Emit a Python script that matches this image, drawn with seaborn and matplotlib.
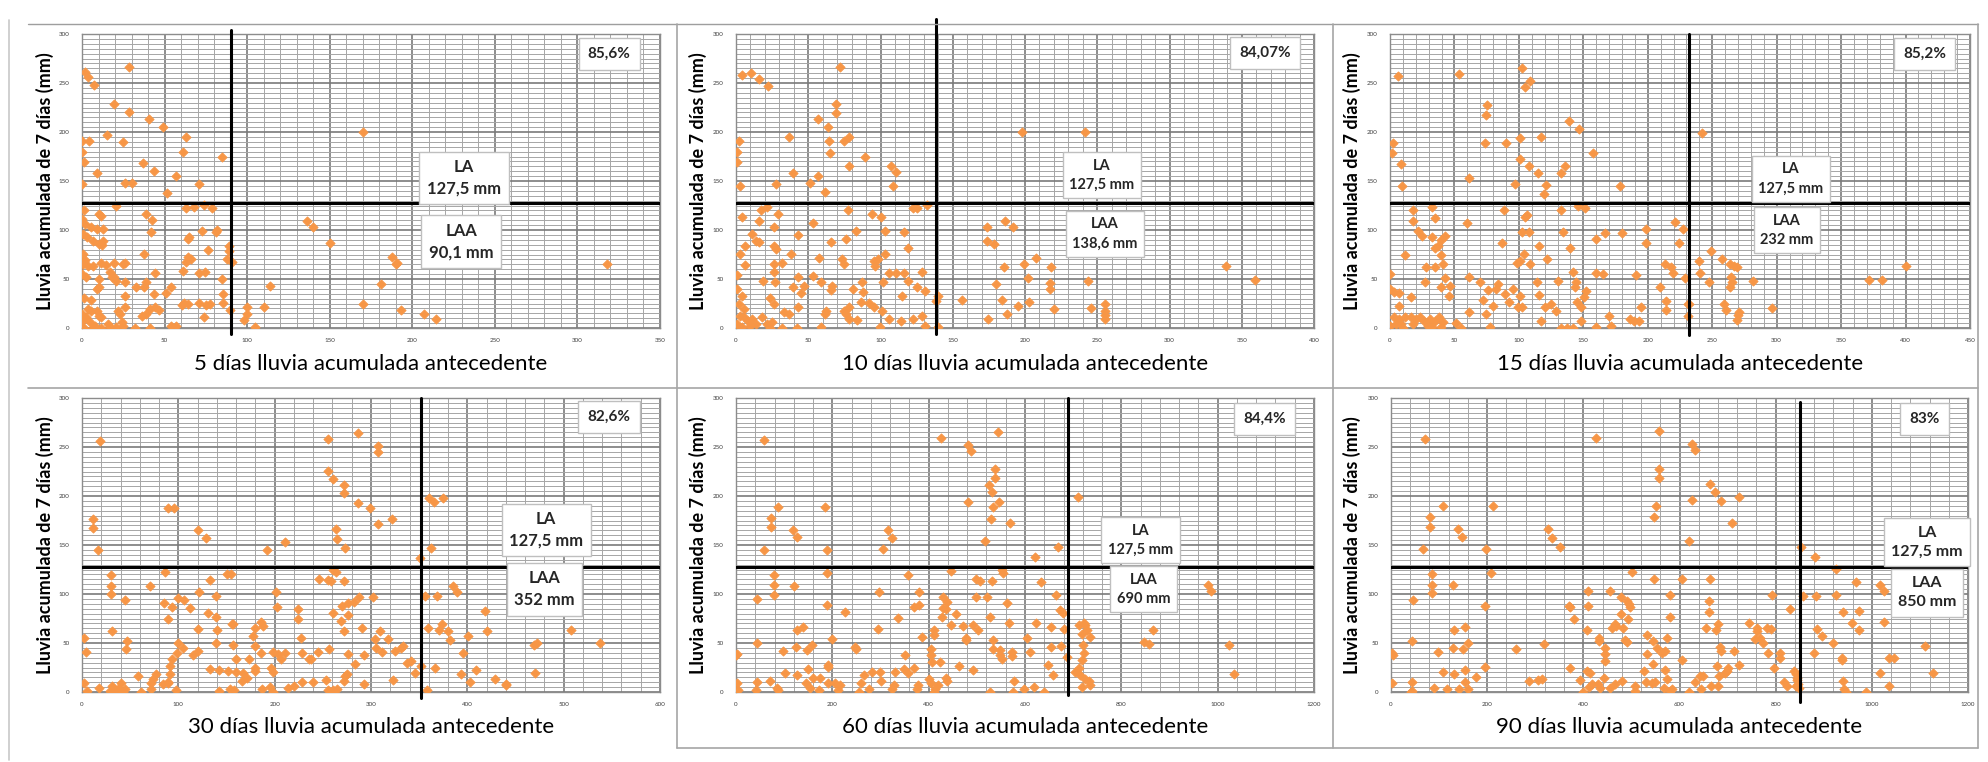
import numpy as np
import pandas as pd
import matplotlib
matplotlib.use("Agg")
import matplotlib.pyplot as plt
from matplotlib.lines import Line2D
from matplotlib.ticker import MultipleLocator
import seaborn as sns

sns.set_theme(style="white")
plt.rcParams["font.family"] = ["Lato", "DejaVu Sans"]

# Umbral de lluvia de 7 días (LA) y umbrales de lluvia antecedente (LAA)
LA = 127.5
windows = [5, 10, 15, 30, 60, 90]
laa = [90.1, 138.6, 232, 352, 690, 850]
pct_labels = ["85,6%", "84,07%", "85,2%", "82,6%", "84,4%", "83%"]
x_max = [350, 400, 450, 600, 1200, 1200]
x_major = [50, 50, 50, 100, 200, 200]

# (lluvia antecedente, lluvia acumulada de 7 días) por ventana
pts_5d = [
    (28.5, 266.7), (1.6, 261), (3.4, 256), (7.5, 248), (19.6, 229), (28.5, 220), (40.4, 213), (49, 205),
    (15.3, 197), (62.8, 195), (0, 191), (4, 191), (24.7, 190), (0, 180), (61, 180), (1, 169), (85, 174),
    (36.8, 168), (43.4, 160), (8.9, 158), (57, 155), (0, 147), (26, 148), (30, 148), (71, 146.6), (51.6, 138),
    (74, 126), (20.5, 124), (63, 122), (68, 123), (79, 122), (170, 200), (136, 109.5), (140, 103), (150, 87),
    (188, 72), (190, 65), (191, 66), (181, 45), (170, 24), (193, 18), (207, 14), (214.6, 9.5), (318, 65),
    (114, 43), (110, 21), (100, 21), (100, 14), (98, 8), (105, 1.4), (89, 84), (89, 79), (88, 70), (91, 67),
    (84.5, 50), (85.6, 35), (85.6, 26), (89.7, 18), (1, 120), (0, 111), (2, 106), (10, 116), (11.5, 114.6),
    (39, 116), (42.2, 110), (42, 98), (5.7, 103), (9, 101), (13, 101), (0.7, 96), (3, 92.5), (6.8, 89),
    (10.3, 86), (13, 89), (12, 85), (0.7, 75.5), (1.6, 69), (37.7, 75.5), (65, 92.5), (64, 91), (72.4, 99),
    (81, 97.6), (82, 100), (76, 80), (64, 72), (66.2, 70.4), (62.8, 67), (61, 58.5), (70.8, 55.8), (74.4, 56.8),
    (0.7, 65), (3.4, 63.6), (6.8, 63), (11.4, 66), (14.8, 64.6), (19.4, 66), (25, 65), (26.3, 66), (44, 55.8),
    (0, 55), (2.3, 51.7), (10, 50), (17, 57), (18.3, 52), (20.5, 48), (19.4, 51.7), (26, 46.6), (38.8, 46.6),
    (37.7, 41.5), (32.6, 41.5), (9, 39.8), (10, 41.5), (51, 36), (54, 41.5), (43.4, 35), (26.3, 33), (1.1, 31),
    (5.7, 28.6), (61.6, 26), (64, 24.5), (60.5, 23), (70.8, 26), (75, 23), (77.6, 24), (26.3, 21), (41, 19.4),
    (44.5, 21.8), (46.8, 18.4), (3.4, 19.4), (5.7, 17), (9, 17.7), (0, 14), (2.3, 11), (10, 12.6), (11.4, 11),
    (21.7, 17.7), (22.8, 14.3), (36.5, 12.6), (38.8, 14), (74, 11), (0, 7.5), (4.6, 5.8), (8, 2.4), (16, 4),
    (17, 1.4), (24, 5.8), (25, 2.4), (32, 0), (41, 0), (53.6, 2.4), (57, 2.4), (1.1, 0), (6.8, 0), (11.4, 0),
    (20.5, 0.7),
]

pts_10d = [
    (72.3, 266.7), (4.4, 258.5), (10.4, 260), (16, 254), (22.4, 247), (69, 229), (69, 219), (56.5, 213),
    (63.7, 205), (37, 195), (64.5, 190.5), (74.7, 190.5), (78.5, 195), (1.8, 190.5), (0.5, 180), (1, 169),
    (64.8, 178.6), (89.5, 174), (78.5, 165.6), (107, 165.6), (110.6, 159.5), (39.5, 158), (57, 155), (51.2, 148),
    (27.6, 147), (2.6, 145), (61.7, 138.4), (108.5, 145), (197.7, 200), (241.4, 200), (122.8, 122), (125.4, 122),
    (132, 126), (4.4, 113), (17.4, 120), (21.3, 123), (29, 116), (16, 109.5), (26.5, 103.4), (53, 107.5),
    (77.5, 120), (94, 116), (100, 113.6), (11, 96), (14, 89), (16, 87.4), (6.3, 84), (3.1, 75.5), (42.7, 94.5),
    (38.2, 75.5), (26.5, 84), (27.8, 80.6), (57.7, 71.4), (65.5, 87.4), (76, 90.8), (83.3, 99.3), (103.3, 98.6),
    (116.3, 97.6), (73.4, 70.4), (74.7, 65), (95.5, 68), (98, 70.4), (96.2, 63.6), (103.3, 76), (119, 82),
    (6.3, 64.6), (26.5, 65), (31.8, 66), (26.5, 56.8), (1, 54.4), (19, 48.3), (27, 46.6), (42.7, 51.7), (39.5, 42),
    (47, 43), (53, 53), (58.5, 46.6), (66.3, 42.5), (65.5, 38.8), (81, 39.8), (87, 46.6), (88, 36.4), (101.5, 46.6),
    (106, 55.8), (111, 55.8), (116.3, 55.8), (119, 48.3), (125, 41.5), (130.6, 38), (128.8, 56.8), (115, 33),
    (0.5, 39.8), (4.4, 33), (1.8, 24.5), (5.7, 19.4), (23.4, 30.6), (26.5, 24.5), (42.7, 21), (44.8, 35.4),
    (62.4, 17.7), (61.7, 14.3), (74.7, 17.7), (78.5, 21.8), (76, 14.3), (78, 9.2), (86.4, 26.2), (92, 25.2),
    (100.7, 17.7), (95.5, 21), (106, 9.2), (114.5, 7.5), (122.8, 9.2), (128.8, 12.6), (138.4, 27.9), (139.7, 33),
    (130.6, 2.4), (139.7, 0.7), (3, 12.6), (5.7, 11), (8.3, 7.5), (11, 9.2), (13.5, 4), (0.5, 4), (4.4, 0.7),
    (9.6, 2.4), (18.2, 11), (21.3, 4), (23.4, 0), (25.2, 5.8), (31.7, 0), (37, 14.3), (42.2, 0), (33, 16),
    (58.5, 1.4), (83.8, 8.2), (99.4, 1.4), (156.6, 28.6), (173.5, 102.7), (178.7, 85.7), (173.5, 88.4),
    (186.5, 109.5), (191.7, 102.7), (185.2, 62), (199.5, 65), (207.3, 71.4), (217.7, 62), (180, 45), (202, 51),
    (217, 46), (217, 40), (184, 28.6), (195, 22.8), (202.7, 26.2), (187.3, 14.3), (174.3, 9.2), (220.3, 19.4),
    (243.8, 48.3), (245.8, 20), (255.5, 24.5), (255.5, 17.7), (255.5, 13.6), (255.5, 9.2), (339.2, 63.6),
    (359.5, 49.3),
]

pts_15d = [
    (5.9, 257.5), (53.6, 259), (102.6, 265), (108.4, 252.4), (105, 245.6), (75.3, 227.6), (74.1, 217.7),
    (138.6, 211.6), (147, 203), (241.8, 198.6), (2.3, 188.8), (1.2, 179), (73.9, 189), (90, 189), (100.5, 193.5),
    (117.2, 195), (8.2, 167), (100.5, 172.4), (107.9, 165.6), (115, 158), (135.4, 165.6), (133, 158),
    (157.7, 179), (61, 153), (96.7, 146.6), (120.7, 146.3), (119.6, 136.7), (9.4, 144.5), (178.2, 144.5),
    (146, 124.6), (151, 122.4), (18.2, 120.4), (17.6, 109.5), (32.2, 123), (34.6, 112), (88.5, 120.4),
    (105, 113.6), (106, 115.6), (132.8, 120.4), (60, 107.5), (22, 99.3), (24.9, 94), (32.2, 92.5), (42.5, 93.9),
    (39.6, 89.8), (37.5, 84), (35.2, 81.6), (102.6, 97.6), (107.9, 97.6), (134.2, 97.6), (159.7, 90.8),
    (166.5, 96.6), (180.2, 96.6), (198.7, 101), (221.3, 107.8), (227.6, 101), (87, 86.7), (115.8, 84),
    (140, 81.6), (198.7, 86.7), (224.2, 86.7), (11.7, 74.8), (39.6, 74.8), (41, 65.3), (27.8, 62), (34.6, 62),
    (27.2, 46.6), (42.5, 51), (104, 75.5), (98.2, 66), (101.1, 68.7), (108.4, 65.3), (121.6, 70.4), (142, 56.8),
    (159.7, 55.8), (165.6, 55), (190.5, 54.4), (213.4, 65.3), (218.4, 62), (219.2, 55.8), (228.6, 51),
    (239.7, 68), (240.9, 55.8), (249, 79), (257.3, 70), (263.8, 65.3), (266.7, 63.6), (269.6, 62), (264.7, 51.7),
    (263.8, 41.5), (265.2, 46.6), (247.7, 46.6), (281.4, 47.6), (0, 55), (61.5, 51.7), (69.5, 46.6), (76.2, 38.8),
    (83.5, 45), (82, 40), (39.6, 41.5), (46.3, 43.2), (45.4, 33), (95.3, 40), (89.4, 35), (92.3, 26.2), (101, 33),
    (99.6, 21), (102.6, 21), (114.3, 46.6), (115.8, 34), (130.3, 47.6), (120.2, 21), (144.2, 46.6), (143.6, 41.5),
    (152.4, 38), (150.9, 31.3), (145, 26.2), (124.6, 24.5), (129, 17.7), (148, 21), (209.6, 41.5), (195, 21),
    (214, 27.2), (214, 18.4), (231.5, 24.5), (259.4, 24.5), (260.8, 18.4), (270.2, 13.6), (269.6, 8.2), (271, 16),
    (296, 20), (371.6, 49.3), (381.9, 49.3), (400, 63.6), (0, 39.8), (2.9, 36.4), (7.3, 35.4), (7.3, 22.8),
    (16, 31.3), (71.8, 28.6), (80, 22.8), (74.7, 14.3), (61, 16), (51.3, 5), (55, 0), (77.7, 1.4), (117.2, 6.8),
    (132.5, 0), (137.7, 0), (142.1, 0), (148, 7.5), (159.7, 1.4), (170, 12.6), (171.5, 2.4), (186, 9.2),
    (189, 6.8), (193.4, 7.5), (231, 12.6), (232, 24.5), (2.9, 10.9), (7.3, 9.2), (11.7, 10.9), (16.1, 10.9),
    (20.5, 9.2), (23.4, 10.9), (26.4, 7.5), (30.8, 9.2), (35.2, 7.5), (38.1, 10.9), (41, 5.8), (8.8, 4.1),
    (17.6, 4.1), (29.3, 2.4), (39.6, 0.7), (4.4, 4.1), (10.3, 0), (32.2, 0.7), (0, 2.4),
]

pts_30d = [
    (18.7, 256), (255, 257.8), (286.3, 264), (307.7, 251), (307, 245), (255, 226), (260.2, 217), (272, 211),
    (272, 202.6), (286.3, 193), (299, 188), (321.4, 176.5), (307.7, 171.4), (360.3, 198), (365.4, 194),
    (374.8, 198), (88.8, 188), (95.4, 188), (10.9, 176.5), (10.9, 167), (120.8, 165.3), (128.6, 157.5),
    (210.4, 152.8), (192, 145), (16.8, 145), (264, 166), (264.8, 156), (273.5, 146.7), (362.3, 146.7),
    (350.6, 136.5), (260.2, 124.7), (264, 122), (246, 115), (255, 114.5), (258.3, 112.8), (272, 113.5),
    (29.6, 119), (29.6, 108.4), (29.6, 100.3), (85.7, 122), (70.9, 108.4), (133.2, 114.5), (150.8, 120.6),
    (155, 120.6), (121.5, 101.6), (139.5, 98.2), (201.4, 101.6), (44.8, 93.5), (99.3, 95.9), (106, 94.2),
    (112.2, 85.7), (93.5, 86.7), (85, 90.8), (88.8, 74.5), (130.5, 80.6), (139.5, 76.2), (157, 69.4),
    (202.6, 86.7), (224.4, 84.7), (224.4, 74.5), (227, 55.2), (261, 80.6), (270, 87.4), (276.6, 90.8),
    (282.4, 91.5), (287.5, 96.5), (302, 96.5), (275.8, 79), (268.8, 72.2), (272, 62.7), (291, 65.4),
    (309.7, 62.7), (303.8, 54.2), (317.5, 54.2), (356.4, 98.2), (368.7, 98.2), (385, 108.4), (389.6, 101.6),
    (359.2, 65.4), (370.9, 63.7), (379.8, 62.7), (373.2, 69.4), (381.7, 53.5), (418, 82.3), (420.7, 62.7),
    (401.2, 56.9), (395.4, 40), (409, 22.4), (469.4, 48.4), (472.1, 50.1), (470.6, 19.6), (507.6, 63.7),
    (537.6, 50.1), (428.5, 12.9), (440, 7.8), (440, 6.8), (403, 10.2), (393.5, 18), (366.2, 24.7), (358.4, 2),
    (337, 29.8), (342, 31.5), (345.9, 19.6), (351.8, 26.4), (331.1, 45), (333, 46.7), (325.3, 41.7),
    (322.5, 11.9), (305, 45), (311.6, 40.6), (293, 37.3), (283.6, 28.1), (293, 7.8), (275.8, 38.3), (274.6, 18),
    (273.5, 16.3), (256.3, 43.4), (245.4, 41.3), (237.6, 33.2), (227.9, 40), (210.4, 40), (206.5, 33.2),
    (198.7, 40.6), (203.7, 38.3), (188.2, 67), (186.2, 71.1), (179.2, 65.4), (177.2, 57.6), (179.2, 47.4),
    (186.2, 40), (155.8, 69.4), (157, 48.4), (159.7, 33.2), (173.4, 33.2), (179.2, 24.7), (196.7, 24.7),
    (132.5, 23), (142.2, 22.4), (151.9, 21.3), (159.7, 20.3), (167.5, 19.6), (179.2, 21.3), (153.9, 3.4),
    (142.2, 1), (165.6, 11.2), (171.4, 14.6), (157.8, 2), (187, 2.7), (194.8, 5.4), (197.9, 0), (197.9, 20.3),
    (120, 64.4), (140.2, 63.7), (139.5, 50.1), (120.8, 41.7), (114.9, 37.3), (105.2, 45), (99.3, 50.1),
    (98.2, 40), (93.5, 33.2), (91.5, 26.4), (91.5, 18), (88.8, 8.8), (77.1, 18.6), (74, 12.9), (72.1, 8.8),
    (58.4, 16.3), (61.5, 0), (72.1, 2.7), (83.8, 7.8), (89.6, 10.2), (97.4, 2), (46.7, 51.8), (31.2, 62.7),
    (46, 43.4), (1.9, 55.2), (3.9, 40.6), (1.9, 9.5), (4.7, 1), (17.5, 4.4), (29.2, 1), (33.1, 2.7), (37, 3.4),
    (39, 1), (40.9, 8.8), (42.9, 0), (35, 0), (44.8, 2.7), (31.2, 6.1), (235.7, 33.2), (214.3, 4.4),
    (220.1, 6.1), (227.9, 10.2), (239.6, 10.2), (253.2, 11.9), (255.2, 2), (261, 2), (264.9, 2.7), (261, 0),
    (271.5, 11.2),
]

pts_60d = [
    (58.8, 257), (425, 259), (543.5, 265.4), (482.4, 252.2), (488.6, 246), (537, 227.4), (537, 218.3),
    (525.5, 211), (531, 203.7), (482.4, 193.5), (533, 189), (546.7, 193.5), (529.4, 177), (568.6, 172),
    (709.8, 199.3), (87.8, 189), (184.3, 189), (72.2, 178), (72.2, 168), (119.2, 165.3), (127, 158.5),
    (315.3, 165.3), (323.1, 156.8), (58.8, 145), (189.8, 145), (305.9, 146), (517.6, 153.8), (621.2, 137.8),
    (668.2, 147.7), (553, 125), (555.3, 121.5), (447, 123), (356.9, 119.8), (78.4, 119.8), (78.4, 109.3),
    (78.4, 99.1), (120, 108), (43.1, 94.4), (189.8, 121.5), (189.8, 88.3), (296.5, 102.5), (380.4, 102.5),
    (498, 115.4), (506, 113.7), (531.8, 113.7), (498, 97.4), (521.6, 97.4), (429.8, 96.7), (437.6, 91.6),
    (429.8, 85.5), (435.3, 84.9), (368.6, 87.2), (380.4, 88.3), (563, 91), (633.7, 112.7), (663.5, 99.1),
    (673, 83.2), (678.4, 80.8), (457.3, 79.8), (427.5, 76.4), (447, 68.6), (470.6, 66.9), (492.5, 68.6),
    (502, 62.8), (527, 76.4), (566.3, 70.3), (623.5, 70.6), (655, 66.2), (682, 64.5), (721.6, 70.6),
    (727.8, 62.8), (735.7, 56), (335.7, 75.4), (225.9, 81.5), (295.7, 64.5), (200, 53.6), (127, 62.8),
    (138.8, 66.2), (125.5, 45.8), (158.4, 47.5), (146.7, 42.4), (43.1, 50.2), (1.6, 39), (98, 41.4),
    (190.6, 25.5), (190.6, 27.2), (247.8, 45.8), (249.4, 44.1), (350.6, 38), (386.7, 56), (411.8, 62.8),
    (411.8, 57.7), (403.9, 44.1), (403.9, 37.3), (407.8, 30.5), (423.5, 30.5), (476.9, 55), (476.9, 52.6),
    (533.3, 52.6), (533.3, 44.1), (549, 42.4), (547.5, 37.3), (553, 33.9), (572.5, 40.7), (572.5, 36.7),
    (609.4, 40.7), (604, 55), (654.9, 45.8), (674.5, 46.8), (686.3, 35.6), (462.7, 26.5), (492.5, 22.1),
    (576.5, 10.9), (647, 27.8), (657.3, 17), (619.6, 4.8), (597.6, 2.7), (575, 0), (639.2, 0), (527, 0),
    (712.2, 67.9), (725.5, 67.9), (717.6, 59.4), (720, 48.2), (723.1, 39.7), (717.6, 32.2), (704.3, 20.4),
    (713.7, 17), (725.5, 13.6), (733.3, 10.9), (735.7, 7.5), (717.6, 5.1), (712.2, 24.4), (866.7, 63.5),
    (847, 50.9), (856.5, 49.2), (980.4, 109.6), (986.7, 102.9), (1023.5, 47.5), (1033.7, 18.7), (0, 38),
    (1.6, 9.5), (3.9, 1.7), (43.1, 10.2), (40.8, 1.7), (70.6, 10.9), (84.7, 4.1), (86.3, 1.7), (102, 19.7),
    (127, 17.7), (149, 23.1), (145, 9.5), (153, 4.1), (172.5, 1.7), (160.8, 14.3), (174, 14.3), (192, 9.5),
    (206, 9.5), (215.7, 6.8), (211.8, 1.7), (255, 0), (258.8, 9.5), (266.7, 17), (276, 3.4), (282.4, 20.4),
    (298, 20.4), (302, 10.9), (323, 2.7), (329.4, 20.4), (327.8, 6.8), (349, 23.8), (356.9, 19.7),
    (368.6, 24.4), (376.5, 2.7), (378, 6.8), (400, 13.6), (404, 9.5), (414, 3.4), (411.8, 0), (419.6, 7.5),
    (435.3, 14.3), (437.6, 10.9),
]

pts_90d = [
    (70.7, 257.8), (426.5, 259.5), (558.4, 266.4), (625, 253.4), (632, 246.6), (558.4, 227.8), (558.4, 218.3),
    (663.6, 212.5), (673.8, 204), (626, 196), (687.2, 194.4), (724, 198.8), (552, 189.3), (546, 178.4),
    (708.4, 172.6), (108.4, 189.3), (212, 189.3), (80.1, 178.4), (80.1, 168), (139.8, 166.4), (147.6, 158.6),
    (326.7, 166.4), (333.8, 157.2), (351.8, 147.7), (66.8, 146), (198, 146), (618.9, 154.5), (853.7, 147.7),
    (882, 138), (925, 125.5), (968, 111.9), (1017, 109.5), (1025, 103.3), (84.8, 120.4), (84.8, 109.1),
    (84.8, 100.6), (128, 109.1), (45.5, 94.1), (208, 121.4), (194.8, 88), (501, 122), (548, 115.3),
    (606, 115.3), (663.6, 115.3), (410.7, 102.7), (455.5, 102.7), (410.7, 88), (370.7, 88), (479, 96.5),
    (491, 93.1), (494.8, 89.7), (496.4, 86.3), (581, 99.2), (661, 93.1), (661, 81.2), (791.6, 99.2),
    (830.8, 84.6), (857.6, 98.2), (883.5, 97.5), (925, 99.2), (477.3, 79.5), (493, 74.4), (459.4, 65.8),
    (467.3, 67.5), (483, 65.8), (380.8, 74.4), (371.3, 87), (581, 76.7), (655.8, 65.8), (679.3, 69.2),
    (675.4, 63.1), (744.5, 70.3), (761.7, 65.8), (761.7, 62.4), (781.4, 65.8), (789.3, 64.1), (885.9, 64.1),
    (896.9, 57), (940.8, 81.2), (972.3, 82.9), (959.7, 70), (972.3, 63.1), (1024.9, 71.6), (918.9, 50.5),
    (879.6, 40.2), (938.5, 34.4), (938.5, 32.7), (1111, 47), (1035, 34.4), (1046, 34.4), (1127, 19.8),
    (1018, 19.8), (1035, 6.1), (988, 0), (941, 11.3), (942, 2.7), (946, 0), (757.9, 53.9), (768.1, 55.6),
    (773.6, 49.5), (783.8, 40.2), (808.9, 40.2), (808.9, 34.4), (797.1, 24.9), (816.8, 10.6), (823, 6.1),
    (838.8, 21.5), (841.9, 18.1), (844.3, 14.7), (844.3, 11.9), (846.6, 7.8), (841.9, 6.1), (848.2, 4.4),
    (684.8, 46), (687.2, 42), (713.1, 42), (724.1, 27.6), (700.5, 24.2), (699, 21.5), (695, 19.8),
    (681.7, 16.4), (677, 26.6), (666, 6.1), (679.3, 6.1), (532.5, 58.3), (545.8, 52.2), (553.7, 45.4),
    (563.9, 40.2), (569.4, 42), (575, 55.6), (604.7, 32.4), (532.5, 39.2), (545.8, 29), (569.4, 22.2),
    (526.2, 21.5), (530.1, 10.6), (541.9, 9.5), (548.2, 10.6), (575, 13), (567, 4.4), (579.6, 1), (585.1, 2.7),
    (618.9, 0), (632.2, 10.6), (642.4, 16.4), (648, 16.4), (645.6, 3.4), (432, 52.2), (446.1, 45.4),
    (446.1, 38.5), (446.1, 31.7), (486.9, 52.9), (490.8, 51.5), (465, 69.2), (408.4, 63.1), (433.5, 54.9),
    (392.7, 11.9), (408.4, 21.5), (414.7, 19.8), (412.3, 5.1), (417.8, 7.8), (430.4, 7.8), (434.3, 4.4),
    (443.7, 14.7), (455.5, 4.4), (465, 7.8), (480.6, 11.3), (506.6, 6.1), (506.6, 1), (399, 0), (371.5, 24.9),
    (318.1, 48.8), (304.7, 11.9), (286.7, 11.3), (314.1, 13), (259.2, 43.7), (194.8, 25.6), (176.7, 15.3),
    (161, 2.7), (153.1, 10.6), (154.7, 22.9), (141.4, 2.7), (116.2, 2.7), (108.4, 20.5), (132, 18.8),
    (90.3, 3.8), (98.2, 41.3), (129.6, 45.4), (149.2, 44.3), (161, 49.5), (153.1, 66.5), (132, 63.1),
    (43.2, 52.2), (43.2, 10.6), (43.2, 1), (40.8, 0), (1.6, 40.2), (3.9, 37.5), (1.6, 9.5),
]

series = [pts_5d, pts_10d, pts_15d, pts_30d, pts_60d, pts_90d]

W, H = 1988, 762
fig = plt.figure(figsize=(W / 100, H / 100), dpi=100)
fig.patch.set_facecolor("white")

# Plot-area rectangles in figure pixels: (left, top, right, bottom)
boxes = [
    (82, 34, 660, 328), (736, 34, 1314, 328), (1390, 34, 1970, 328),
    (82, 398, 660, 692), (736, 398, 1314, 692), (1391, 398, 1968, 692),
]
ylabel_x = [45, 698, 1352, 45, 698, 1352]
xlabel_y = [364, 364, 364, 727, 727, 727]
# positions (axes fraction) of the text boxes
pct_pos = [(0.912, 0.932), (0.915, 0.935), (0.922, 0.932), (0.912, 0.935), (0.915, 0.929), (0.924, 0.929)]
la_pos = [(0.661, 0.51), (0.633, 0.52), (0.691, 0.507), (0.803, 0.551), (0.70, 0.517), (0.929, 0.51)]
laa_pos = [(0.656, 0.293), (0.638, 0.32), (0.684, 0.333), (0.80, 0.35), (0.705, 0.35), (0.929, 0.337)]
box_fs = [12, 10.5, 10.5, 12, 10.5, 11.5]
vline_ext = [(-0.02, 1.015), (-0.02, 1.05), (-0.025, 1.0), (-0.02, 1.0), (-0.01, 1.0), (-0.035, 0.985)]

orange = "#F79646"
box_style = dict(boxstyle="square,pad=0.45", fc="white", ec="#BFBFBF", lw=1.0)

for i, pts in enumerate(series):
    l, t, r, b = boxes[i]
    ax = fig.add_axes([l / W, 1 - b / H, (r - l) / W, (b - t) / H])
    df = pd.DataFrame(pts, columns=["antecedente", "lluvia7"])

    ax.set_xlim(0, x_max[i])
    ax.set_ylim(0, 300)
    ax.xaxis.set_major_locator(MultipleLocator(x_major[i]))
    ax.xaxis.set_minor_locator(MultipleLocator(x_major[i] / 5))
    ax.yaxis.set_major_locator(MultipleLocator(50))
    ax.yaxis.set_minor_locator(MultipleLocator(5))
    ax.grid(which="major", color="#7A7A7A", lw=1.2)
    ax.grid(which="minor", color="#A6A6A6", lw=0.7)
    ax.set_axisbelow(True)
    for sp in ax.spines.values():
        sp.set_color("#8C8C8C")
        sp.set_linewidth(1.0)
    ax.tick_params(which="both", length=0, labelsize=4.5, labelcolor="#404040")
    ax.tick_params(axis="y", pad=9)
    ax.tick_params(axis="x", pad=7)

    sns.scatterplot(data=df, x="antecedente", y="lluvia7", marker="D", s=22,
                    color=orange, edgecolor=orange, linewidth=0.6, ax=ax, zorder=3,
                    legend=False)
    ax.set_xlabel("")
    ax.set_ylabel("")

    ax.axhline(LA, color="black", lw=2.2, zorder=4)
    y0, y1 = vline_ext[i]
    ax.axvline(laa[i], ymin=y0, ymax=y1, color="black", lw=2.2, zorder=4, clip_on=False)

    ax.text(*pct_pos[i], pct_labels[i], transform=ax.transAxes, ha="center", va="center",
            fontsize=11, fontweight="bold", color="#262626",
            bbox=dict(boxstyle="square,pad=0.6", fc="white", ec="#BFBFBF", lw=1.0), zorder=6)
    ax.text(*la_pos[i], "LA\n127,5 mm", transform=ax.transAxes, ha="center", va="center",
            fontsize=box_fs[i], fontweight="bold", color="#262626", linespacing=1.45,
            bbox=box_style, zorder=6)
    laa_txt = f"{laa[i]:g} mm".replace(".", ",")
    ax.text(*laa_pos[i], "LAA\n" + laa_txt, transform=ax.transAxes, ha="center", va="center",
            fontsize=box_fs[i], fontweight="bold", color="#262626", linespacing=1.45,
            bbox=box_style, zorder=6)

    fig.text(ylabel_x[i] / W, 1 - ((t + b) / 2) / H, "Lluvia acumulada de 7 días (mm)",
             rotation=90, ha="center", va="center", fontsize=13, fontweight="bold", color="black")
    fig.text(((l + r) / 2) / W, 1 - xlabel_y[i] / H, f"{windows[i]} días lluvia acumulada antecedente",
             ha="center", va="center", fontsize=16, color="black")

# panel frames
def fline(x0, y0, x1, y1, color="#A6A6A6", lw=1.2):
    fig.add_artist(Line2D([x0 / W, x1 / W], [1 - y0 / H, 1 - y1 / H], transform=fig.transFigure,
                          color=color, lw=lw))

fline(28, 24, 1978, 24, "#9E9E9E", 1.0)
fline(9, 20, 9, 760, "#C8C8C8", 1.2)
fline(677, 24, 677, 748)
fline(1333, 24, 1333, 748)
fline(1978, 24, 1978, 748)
fline(28, 388, 1978, 388)
fline(677, 748, 1978, 748)

fig.savefig("out.png", dpi=100, facecolor="white")
